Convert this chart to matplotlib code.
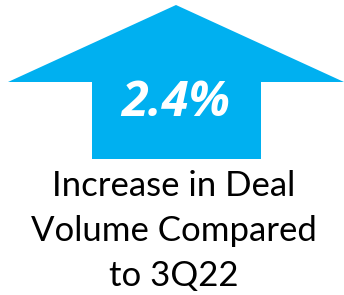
import matplotlib.pyplot as plt
from matplotlib.patches import Polygon

# values shown on the infographic
change_value = 2.4
label_lines = ["Increase in Deal", "Volume Compared", "to 3Q22"]

BLUE = '#00B0F0'


def main():
    fig = plt.figure(figsize=(3.44, 2.95), dpi=100)
    ax = fig.add_axes([0, 0, 1, 1])
    ax.set_xlim(0, 344)
    ax.set_ylim(295, 0)
    ax.axis('off')

    # up arrow: head + shaft
    arrow = [(176, 5), (344, 82), (261, 82), (261, 159),
             (92, 159), (92, 82), (8, 82)]
    ax.add_patch(Polygon(arrow, closed=True, color=BLUE, lw=0))

    ax.text(176, 104, '%.1f%%' % change_value, color='white',
            fontsize=35, fontweight='bold', fontstyle='italic',
            family='Open Sans', ha='center', va='center')

    # caption
    y = 186
    for line in label_lines:
        ax.text(174, y, line, color='black', fontsize=25, family='Lato',
                ha='center', va='center')
        y += 45

    fig.savefig('out.png', dpi=100)


if __name__ == "__main__":
    main()
